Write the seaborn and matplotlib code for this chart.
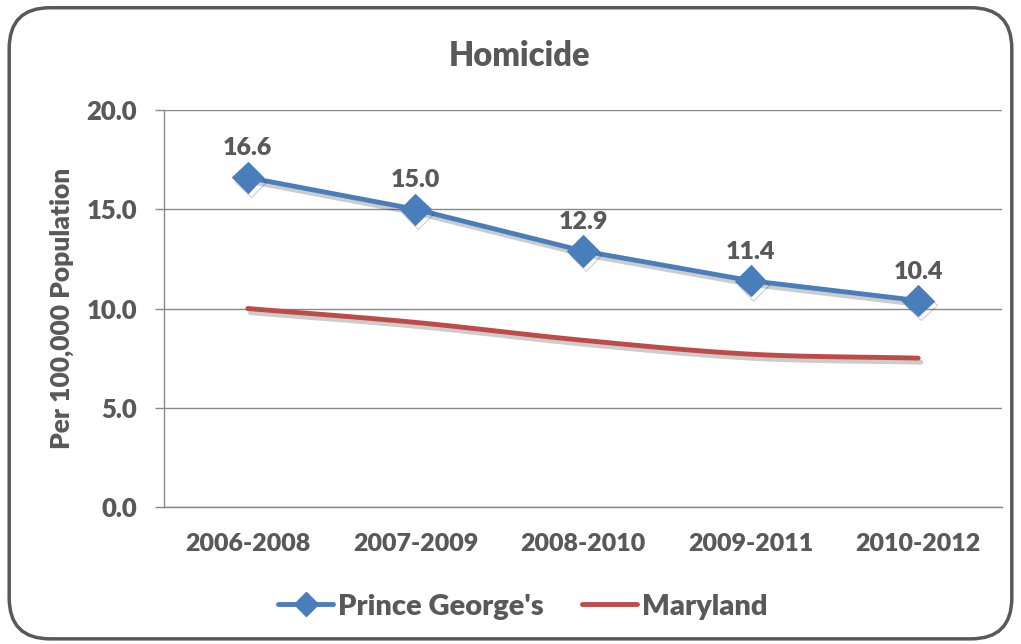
import numpy as np
import pandas as pd
import matplotlib
matplotlib.use("Agg")
import matplotlib.pyplot as plt
import matplotlib.patheffects as pe
from matplotlib.patches import FancyBboxPatch
from matplotlib.lines import Line2D
import seaborn as sns

categories = ["2006-2008", "2007-2009", "2008-2010", "2009-2011", "2010-2012"]
prince_georges = [16.6, 15.0, 12.9, 11.4, 10.4]
maryland = [10.0, 9.3, 8.4, 7.7, 7.5]
y_ticks = [0, 5, 10, 15, 20]

sns.set_theme(style="white")
plt.rcParams['font.family'] = ['Lato', 'DejaVu Sans']
TXT = "#595959"
BLUE = "#4A7EBB"
RED = "#BE4B48"
W = 800

fig = plt.figure(figsize=(10.21, 6.44), dpi=100)
ax = fig.add_axes([0.1606, 0.2127, 0.8208, 0.6165])

border = FancyBboxPatch((0.009, 0.008), 0.982, 0.98, boxstyle="round,pad=0,rounding_size=0.04",
                        transform=fig.transFigure, fill=False, edgecolor="#595959", linewidth=2.5,
                        mutation_aspect=1021/644)
fig.patches.append(border)

x = np.arange(len(categories))
df_pg = pd.DataFrame({"x": x, "y": prince_georges})

def catmull(xs, ys, n=30):
    P = np.column_stack([xs, ys]).astype(float)
    P = np.vstack([2 * P[0] - P[1], P, 2 * P[-1] - P[-2]])
    out = []
    for i in range(1, len(P) - 2):
        p0, p1, p2, p3 = P[i - 1], P[i], P[i + 1], P[i + 2]
        c1 = p1 + (p2 - p0) / 6
        c2 = p2 - (p3 - p1) / 6
        t = np.linspace(0, 1, n)[:, None]
        seg = (1 - t) ** 3 * p1 + 3 * (1 - t) ** 2 * t * c1 + 3 * (1 - t) * t ** 2 * c2 + t ** 3 * p2
        out.append(seg if i == 1 else seg[1:])
    return np.vstack(out)

sm = catmull(x, maryland)
df_md = pd.DataFrame({"x": sm[:, 0], "y": sm[:, 1]})

shadow = [pe.SimpleLineShadow(offset=(2, -3), shadow_color="black", alpha=0.2), pe.Normal()]

sns.lineplot(data=df_md, x="x", y="y", ax=ax, color=RED, linewidth=3.5,
             solid_capstyle="round", path_effects=shadow)
sns.lineplot(data=df_pg, x="x", y="y", ax=ax, color=BLUE, linewidth=3.5, marker="D",
             markersize=16, markeredgecolor=BLUE, path_effects=shadow)

for xi, v in zip(x, prince_georges):
    ax.annotate(f"{v:.1f}", (xi, v), xytext=(0, 13), textcoords="offset points",
                ha="center", va="bottom", fontsize=18, fontweight=W, color=TXT)

ax.set_xlim(-0.5, len(categories) - 0.5)
ax.set_ylim(0, 20)
ax.set_yticks(y_ticks)
ax.set_yticklabels([f"{t:.1f}" for t in y_ticks])
ax.set_xticks(x)
ax.set_xticklabels(categories)
ax.set_xticks(np.arange(-0.5, len(categories), 1), minor=True)
ax.tick_params(axis="x", which="major", length=0, pad=19, labelsize=18, labelcolor=TXT)
ax.tick_params(axis="x", which="minor", length=6.5, color="#898989", width=1, direction="out")
ax.tick_params(axis="y", length=6.5, color="#898989", width=1, direction="out", pad=13,
               labelsize=18.5, labelcolor=TXT, left=True)
for lab in ax.get_xticklabels() + ax.get_yticklabels():
    lab.set_fontweight(W)

ax.grid(axis="y", color="#898989", linewidth=1)
ax.set_axisbelow(True)
for s in ["top", "right"]:
    ax.spines[s].set_visible(False)
for s in ["left", "bottom"]:
    ax.spines[s].set_color("#898989")
    ax.spines[s].set_linewidth(1)

ax.set_xlabel("")
ax.set_ylabel("Per 100,000 Population", fontsize=19, fontweight=W, color=TXT, labelpad=9)
fig.text(0.509, 0.913, "Homicide", ha="center", va="center", fontsize=23.5, fontweight=W, color=TXT)

handles = [Line2D([], [], color=BLUE, linewidth=3.5, marker="D", markersize=12),
           Line2D([], [], color=RED, linewidth=3.5)]
leg = fig.legend(handles, ["Prince George's", "Maryland"], loc="center", bbox_to_anchor=(0.512, 0.058),
                 ncol=2, frameon=False, handlelength=1.9, handletextpad=0.17, columnspacing=1.3,
                 prop={"size": 21, "weight": W})
for t in leg.get_texts():
    t.set_color(TXT)

fig.savefig("out.png", dpi=100)
